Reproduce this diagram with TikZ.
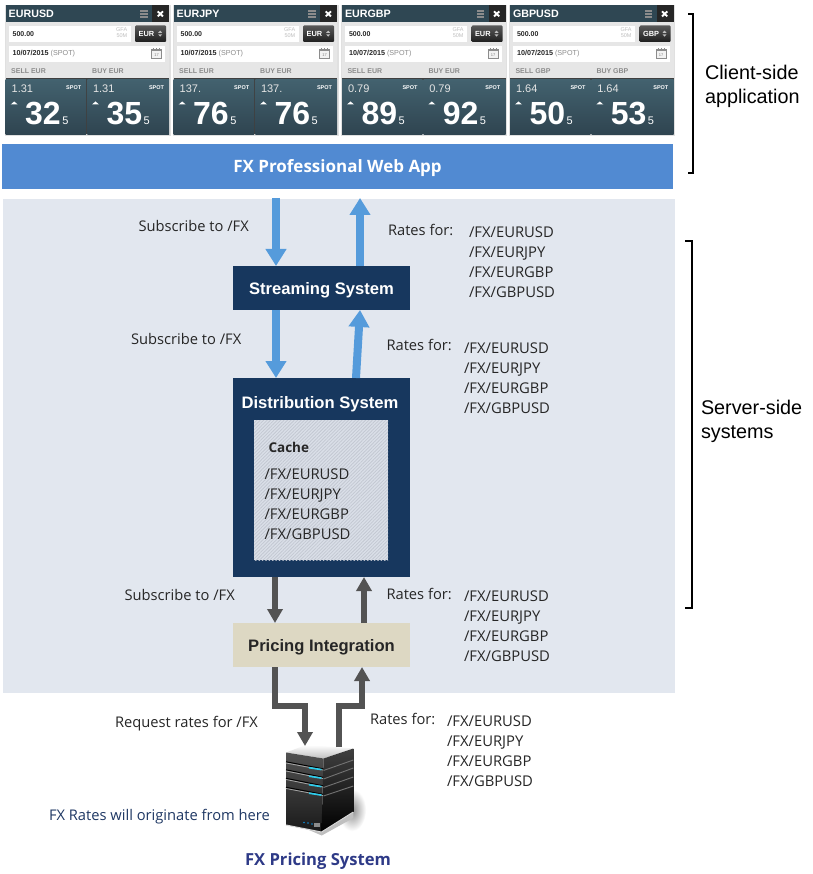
\documentclass[tikz,border=0pt]{standalone}
\usepackage{fontspec}
\setmainfont{Open Sans}
\newfontfamily\arialf{Liberation Sans}
\usetikzlibrary{arrows.meta,patterns.meta,calc}
\definecolor{panelbg}{HTML}{E2E7EF}
\definecolor{appblue}{HTML}{518AD2}
\definecolor{navy}{HTML}{17375E}
\definecolor{sand}{HTML}{DDD8C3}
\definecolor{arrowblue}{HTML}{559BDB}
\definecolor{arrowgrey}{HTML}{535353}
\definecolor{txt}{HTML}{262626}
\definecolor{bar}{HTML}{2F4753}
\definecolor{teal1}{HTML}{43626F}
\definecolor{teal2}{HTML}{2F4450}
\definecolor{tilebg}{HTML}{E6E6E6}
\definecolor{glabel}{HTML}{8C8C8C}
\definecolor{originate}{HTML}{1F3864}
\definecolor{pricing}{HTML}{2E3A87}
\definecolor{cachebg}{HTML}{DADFE8}
\definecolor{cacheline}{HTML}{C3C8D2}
\newcommand{\inkdown}[1]{\raisebox{-2pt}[\height][\depth]{#1}}
\tikzset{
  fs/.style={inner sep=0pt,outer sep=0pt},
  box/.style={fs,draw=none,align=center},
  lbl/.style={fs,anchor=base west,text=txt,font=\fontsize{14.7}{17}\selectfont},
  fxlist/.style={fs,anchor=west,align=left,text=txt,font=\fontsize{14.8}{20}\selectfont},
  blue arrow/.style={draw=arrowblue,line width=8pt,-{Triangle[width=20pt,length=17pt,fill=arrowblue]}},
  grey arrow/.style={draw=arrowgrey,line width=5.5pt,-{Triangle[width=15pt,length=14pt,fill=arrowgrey]}},
  bracket/.style={draw=black,line width=1.2pt},
  side/.style={fs,anchor=west,align=left,text=black,font=\arialf\fontsize{19.8}{24}\selectfont},
  tsmall/.style={fs,font=\arialf\bfseries\fontsize{7}{7.5}\selectfont,text=#1},
  tsmall/.default=txt,
  boxhead/.style={font=\arialf\bfseries\fontsize{16.6}{18}\selectfont},
}
% tile: #1 x, #2 name, #3 pair, #4 ccy, #5 price, #6 sell, #7 buy
\newcommand{\fxtile}[7]{%
\begin{scope}[shift={(#1,0)}]
  \fill[black!12] (-.8,4.8) rectangle (164.8,136);
  \fill[tilebg] (0,5.5) rectangle (163.5,134.5);
  \fill[bar] (0,5.5) rectangle (163.5,22.3);
  \fill[black!85] (146.5,5.5) rectangle (163.5,22.3);
  \foreach \yy in {11,14,17}{\fill[black!45] (134.5,\yy-.6) rectangle (142,\yy+.6);}
  \draw[white,line width=1.9pt] (152,11.4) -- (157.3,16.4) (157.3,11.4) -- (152,16.4);
  \node[fs,anchor=base west,text=white,font=\arialf\bfseries\fontsize{10.7}{12}\selectfont] (#2title) at (3,17.2) {#3};
  \fill[white] (3,26) rectangle (125,42);
  \node[tsmall,anchor=west] (#2amt) at (7,33.7) {500.00};
  \node[tsmall=black!25,anchor=east,font=\arialf\fontsize{5.5}{6}\selectfont,align=right] (#2gfa) at (121.5,33) {GFA\\50M};
  \shade[top color=black!65,bottom color=black!88,rounded corners=1pt] (129.5,25.5) rectangle (160.5,42);
  \node[tsmall=white,anchor=west,font=\arialf\bfseries\fontsize{7.4}{8}\selectfont] (#2ccy) at (133,33.8) {#4};
  \fill[white!75!black] (152.5,32.8) -- (154.5,30.6) -- (156.5,32.8) -- cycle (152.5,34.4) -- (154.5,36.6) -- (156.5,34.4) -- cycle;
  \fill[white] (3,46) rectangle (159.5,62);
  \node[tsmall,anchor=west,font=\arialf\bfseries\fontsize{7.2}{8}\selectfont] (#2date) at (7,53.7) {10/07/2015 \textcolor{glabel}{\mdseries (SPOT)}};
  \draw[black!45,line width=.5pt,fill=tilebg!50!white] (146,49.5) rectangle (156,58.5);
  \draw[black!45,line width=.7pt] (146,50.5) -- (156,50.5) (148,48.2) -- (148,50) (151,48.2) -- (151,50) (154,48.2) -- (154,50);
  \node[fs,text=black!50,font=\arialf\fontsize{4}{4}\selectfont] (#2cal) at (151,55) {17};
  \node[tsmall=glabel,anchor=base west,font=\arialf\bfseries\fontsize{7}{8}\selectfont] (#2sell) at (5.5,73.4) {SELL #4};
  \node[tsmall=glabel,anchor=base west,font=\arialf\bfseries\fontsize{7}{8}\selectfont] (#2buy) at (86.5,73.4) {BUY #4};
  \fill[black!75] (0,78.5) rectangle (163.5,134.5);
  \shade[top color=teal1,bottom color=teal2] (0,79.2) rectangle (80.4,134.5);
  \shade[top color=teal1,bottom color=teal2] (81.6,79.2) rectangle (163.5,134.5);
  \foreach \off/\pn/\big/\se in {0/a/#6/75.5, 81.3/b/#7/77}{
    \begin{scope}[shift={(\off,0)}]
    \node[fs,anchor=base west,text=white!90!black,font=\arialf\fontsize{11}{12}\selectfont] (#2p\pn) at (6,92.6) {#5};
    \node[fs,anchor=base east,text=white,font=\arialf\bfseries\fontsize{5.5}{6}\selectfont] (#2s\pn) at (\se,89.5) {SPOT};
    \fill[white] (5,104.5) -- (8.5,101.5) -- (12,104.5) -- cycle;
    \node[fs,anchor=base west,text=white,font=\arialf\bfseries\fontsize{32}{32}\selectfont] (#2b\pn) at (19.5,124.5) {\big};
    \node[fs,anchor=base west,text=white,font=\arialf\fontsize{11}{12}\selectfont] (#2f\pn) at ($(#2b\pn.base east)+(1.5,0)$) {5};
    \end{scope}
  }
\end{scope}}
\begin{document}
\begin{tikzpicture}[x=1pt,y=-1pt]
\useasboundingbox (0,0) rectangle (812,874);
\fill[white] (0,0) rectangle (812,874);
\fxtile{5.7}{ta}{EURUSD}{EUR}{1.31}{32}{35}
\fxtile{173.7}{tb}{EURJPY}{EUR}{137.}{76}{76}
\fxtile{342}{tc}{EURGBP}{EUR}{0.79}{89}{92}
\fxtile{510}{td}{GBPUSD}{GBP}{1.64}{50}{53}
% panels
\node[box,fill=panelbg,minimum width=672pt,minimum height=494pt] (panel) at (339,446) {};
\node[box,fill=appblue,minimum width=671pt,minimum height=45pt,text=white,font=\bfseries\fontsize{17}{20}\selectfont] (app) at (337.5,166.5) {\inkdown{FX Professional Web App}};
\node[box,fill=navy,minimum width=177pt,minimum height=44pt,text=white,boxhead] (stream) at (321.5,288) {\inkdown{Streaming System}};
\node[box,fill=navy,minimum width=177pt,minimum height=199pt] (dist) at (321.5,477.5) {};
\node[fs,text=white,boxhead] (distlabel) at (320,404.5) {Distribution System};
\node[box,fill=cachebg,minimum width=134pt,minimum height=140pt] (cache) at (321,490) {};
\fill[pattern={Lines[angle=45,distance=2.4pt,line width=.8pt]},pattern color=cacheline] (cache.north west) rectangle (cache.south east);
\node[lbl,font=\bfseries\fontsize{13.5}{16}\selectfont] (cachelabel) at (268.5,452.5) {Cache};
\node[fxlist] (cachelist) at (264.5,504) {/FX/EURUSD\\/FX/EURJPY\\/FX/EURGBP\\/FX/GBPUSD};
\node[box,fill=sand,minimum width=177pt,minimum height=44pt,text=txt,boxhead] (pricenode) at (321.5,645) {\inkdown{Pricing Integration}};
% server
\begin{scope}
  \shade[inner color=black!45,outer color=white] (352,810) ellipse (14 and 21);
  \fill[black!25] (286,820) -- (321.7,835.5) -- (353.3,818) -- (353.3,810) -- (286,816) -- cycle;
  \shade[top color=white,bottom color=black!25] (286,752.5) -- (306,745) -- (353.3,748.5) -- (323.5,758.5) -- cycle;
  \shade[top color=black!68,bottom color=black!90] (286,752.5) -- (323.5,758.5) -- (321.5,832) -- (286,825) -- cycle;
  \shade[top color=black!75,bottom color=black] (323.5,758.5) -- (353.3,748.5) -- (353.3,812) -- (321.5,832) -- cycle;
  \draw[black!55,line width=.9pt] (353.3,760) -- (323.5,770.5) (353.3,768) -- (323.5,779) (353.3,777) -- (323.5,787.5) (353.3,786) -- (323.5,796);
  \foreach \ya/\yb in {763/770,771/778.5,779.5/787,788.5/795.5}{
    \draw[black,line width=1pt] (286,\ya-1.2) -- (323,\yb-1.2);
    \draw[black!35,line width=.8pt] (286,\ya) -- (323,\yb);
    \draw[arrowblue!50!cyan,line width=1.6pt] (309,\yb-2.3) -- (321.5,\yb-.4);
  }
  \fill[cyan!70!blue] (304,822.5) circle (.9) (308,823) circle (.9) (312,824) circle (.9);
  \fill[black!45] (314,823) rectangle (320,827);
  \draw[black!15,line width=1pt] (286,825) -- (321.5,832) -- (353.3,812);
\end{scope}
% helper x positions
\coordinate (dA) at (276,0);
\coordinate (uA) at (360,0);
\coordinate (uB) at (356,0);
\coordinate (dC) at (275,0);
\coordinate (uC) at (364,0);
\coordinate (uE) at (362,0);
\coordinate (appgap) at (0,198);
\coordinate (serverin) at (305,746);
\coordinate (serverout) at (339,747);
\coordinate (benda) at (275,706);
\coordinate (bendb) at (305,706);
\coordinate (bendc) at (339,706);
\coordinate (bendd) at (362,706);
% arrows
\draw[blue arrow] (dA |- appgap) -- (dA |- stream.north);
\draw[blue arrow] (uA |- stream.north) -- (uA |- appgap);
\draw[blue arrow] (dA |- stream.south) -- (dA |- dist.north);
\draw[blue arrow] (uB |- dist.north) -- (uA |- stream.south);
\draw[grey arrow] (dC |- dist.south) -- (dC |- pricenode.north);
\draw[grey arrow] (uC |- pricenode.north) -- (uC |- dist.south);
\draw[grey arrow] (dC |- pricenode.south) -- (benda) -- (bendb) -- (serverin);
\draw[grey arrow] (serverout) -- (bendc) -- (bendd) -- (uE |- pricenode.south);
% labels
\node[lbl] (l1) at (138.5,232) {Subscribe to /FX};
\node[lbl] (l2) at (131,344) {Subscribe to /FX};
\node[lbl] (l3) at (124.5,600.5) {Subscribe to /FX};
\node[lbl] (l4) at (115,727) {Request rates for /FX};
\node[lbl] (r1) at (388,236) {Rates for:};
\node[lbl] (r2) at (386.5,350) {Rates for:};
\node[lbl] (r3) at (386.5,599) {Rates for:};
\node[lbl] (r4) at (370,724) {Rates for:};
\node[fxlist] (f1) at (469,262.7) {/FX/EURUSD\\/FX/EURJPY\\/FX/EURGBP\\/FX/GBPUSD};
\node[fxlist] (f2) at (464,378) {/FX/EURUSD\\/FX/EURJPY\\/FX/EURGBP\\/FX/GBPUSD};
\node[fxlist] (f3) at (464,626.5) {/FX/EURUSD\\/FX/EURJPY\\/FX/EURGBP\\/FX/GBPUSD};
\node[fxlist] (f4) at (447,751) {/FX/EURUSD\\/FX/EURJPY\\/FX/EURGBP\\/FX/GBPUSD};
\node[lbl,text=originate] (orig) at (49,820) {FX Rates will originate from here};
\node[fs,text=pricing,font=\bfseries\fontsize{16.6}{20}\selectfont] (fxps) at (318,861.5) {FX Pricing System};
% brackets
\coordinate (bat) at (693,14);
\coordinate (bab) at (693,173);
\coordinate (bbt) at (692,241);
\coordinate (bbb) at (692,608);
\draw[bracket] ($(bat)+(-5,0)$) -- (bat) -- (bab) -- ($(bab)+(-5,0)$);
\draw[bracket] ($(bbt)+(-7,0)$) -- (bbt) -- (bbb) -- ($(bbb)+(-7,0)$);
\node[side] (client) at (705,86) {Client-side\\application};
\node[side] (serverside) at (701,421) {Server-side\\systems};
\end{tikzpicture}
\end{document}
